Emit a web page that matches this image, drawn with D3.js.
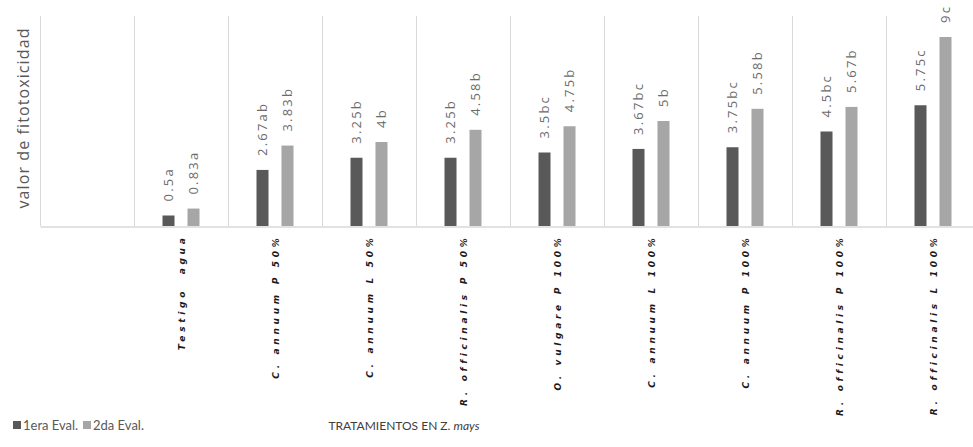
<!DOCTYPE html>
<html><head><meta charset="utf-8">
<script src="https://cdn.jsdelivr.net/npm/d3@7"></script>
<style>body{margin:0;background:#fff}svg{display:block}</style>
</head><body><svg id="c" width="973" height="447"></svg>
<script>
const categories = ["", "Testigo  agua", "C. annuum P 50%", "C. annuum L 50%", "R. officinalis P 50%", "O. vulgare P 100%", "C. annuum L 100%", "C. annuum P 100%", "R. officinalis P 100%", "R. officinalis L 100%"];
const seriesNames = ["1era Eval.", "2da Eval."];
const eval1 = [null, 0.5, 2.67, 3.25, 3.25, 3.5, 3.67, 3.75, 4.5, 5.75];
const eval2 = [null, 0.83, 3.83, 4, 4.58, 4.75, 5, 5.58, 5.67, 9];
const letters1 = ["", "a", "ab", "b", "b", "bc", "bc", "bc", "bc", "c"];
const letters2 = ["", "a", "b", "b", "b", "b", "b", "b", "b", "c"];
const yDomain = [0, 10];
const yTitle = "valor de fitotoxicidad";
const colors = ["#595959", "#a6a6a6"];

const svg = d3.select("#c");
const mLeft = 40, mRight = 980, mTop = 16, mBottom = 226;
const x0 = d3.scaleBand().domain(categories).range([mLeft, mRight]).padding(0);
const x1 = d3.scaleBand().domain(seriesNames).range([0, x0.bandwidth()]).paddingInner(0.52).paddingOuter(1.14);
const y = d3.scaleLinear().domain(yDomain).range([mBottom, mTop]);

// vertical gridlines at band boundaries
const bounds = categories.map(c => x0(c));
svg.append("g").selectAll("line").data(bounds).join("line")
  .attr("x1", d => d + 0.5).attr("x2", d => d + 0.5)
  .attr("y1", mTop).attr("y2", mBottom)
  .attr("stroke", "#d9d9d9").attr("stroke-width", 1);

// baseline axis
const xAxis = d3.axisBottom(x0).tickSize(0).tickFormat("");
svg.append("g").attr("transform", `translate(0,${mBottom + 0.5})`).call(xAxis)
  .call(g => g.select(".domain").attr("stroke", "#d9d9d9").attr("stroke-width", 1.5));

const rows = categories.map((c, i) => ({c, vals: [eval1[i], eval2[i]], lets: [letters1[i], letters2[i]]}));
const g = svg.append("g").selectAll("g").data(rows.filter(r => r.vals[0] != null)).join("g")
  .attr("transform", d => `translate(${x0(d.c)},0)`);

g.selectAll("rect").data(d => d.vals.map((v, k) => ({v, k}))).join("rect")
  .attr("x", d => x1(seriesNames[d.k])).attr("width", x1.bandwidth())
  .attr("y", d => y(d.v)).attr("height", d => y(0) - y(d.v))
  .attr("fill", d => colors[d.k]);

g.selectAll("text.lbl").data(d => d.vals.map((v, k) => ({v, k, l: d.lets[k]}))).join("text")
  .attr("class", "lbl")
  .attr("transform", d => `translate(${x1(seriesNames[d.k]) + x1.bandwidth() / 2 + 4.5},${y(d.v) - 14}) rotate(-90)`)
  .attr("text-anchor", "start")
  .attr("font-family", "Open Sans").attr("font-size", 13).attr("letter-spacing", "2.2px")
  .attr("fill", "#6b6b6b")
  .text(d => d.v + d.l);

// category labels
svg.append("g").selectAll("text").data(categories.filter(c => c)).join("text")
  .attr("transform", d => `translate(${x0(d) + x0.bandwidth() / 2 + 3.5},234.5) rotate(-90)`)
  .attr("text-anchor", "end")
  .attr("font-family", "DejaVu Sans").attr("font-size", 9).attr("font-weight", "bold")
  .attr("font-style", "italic").attr("letter-spacing", "3.7px").attr("fill", "#1a1a1a")
  .style("white-space", "pre")
  .text(d => d);

// y title
svg.append("text").attr("transform", "translate(29,118) rotate(-90)")
  .attr("text-anchor", "middle").attr("font-family", "Open Sans").attr("font-size", 16)
  .attr("letter-spacing", "1.1px")
  .attr("fill", "#595959").text(yTitle);

// legend
const lg = svg.append("g").attr("transform", "translate(13,425)");
const lx = [0, 70];
seriesNames.forEach((s, i) => {
  lg.append("rect").attr("x", lx[i]).attr("y", -4).attr("width", 8).attr("height", 8).attr("fill", colors[i]);
  lg.append("text").attr("x", lx[i] + 10).attr("y", 4.5).attr("font-family", "Lato").attr("font-size", 13)
    .attr("fill", "#595959").text(s);
});

// x title
const xt = svg.append("text").attr("x", 404).attr("y", 430).attr("text-anchor", "middle")
  .attr("font-family", "Lato").attr("font-size", 12).attr("fill", "#404040");
xt.append("tspan").text("TRATAMIENTOS EN Z. ");
xt.append("tspan").attr("font-style", "italic").text("mays");
</script></body></html>
